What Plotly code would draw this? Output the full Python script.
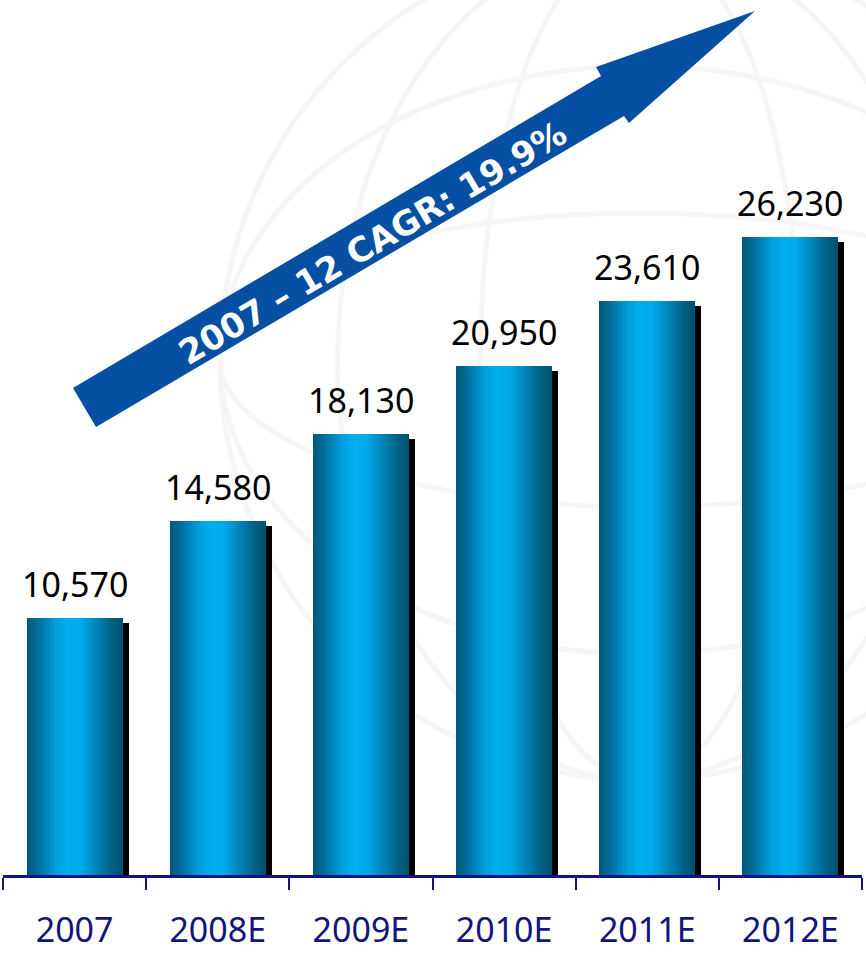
import plotly.graph_objects as go

categories = ["2007", "2008E", "2009E", "2010E", "2011E", "2012E"]
values = [10570, 14580, 18130, 20950, 23610, 26230]
value_labels = ["10,570", "14,580", "18,130", "20,950", "23,610", "26,230"]
cagr_text = "2007 – 12 CAGR: 19.9%"

W, H = 866, 953
ML, MR, MT, MB = 3, 4, 0, 78
YMAX = 36000
plot_w = W - ML - MR
plot_h = H - MT - MB
px_per_cat = plot_w / len(categories)
px_per_unit = plot_h / YMAX

NAVY = "#14147f"
ARROW = "#0550a2"
FONT = "Noto Sans"

bar_w = 96 / px_per_cat          # bar width in category units
shadow_dx = 6 / px_per_cat       # shadow offset (right)
shadow_dy = 5 / px_per_unit      # shadow offset (down)

# horizontal gradient stops (t, r, g, b)
stops = [(0.0, 0, 88, 122), (0.12, 0, 112, 158), (0.3, 0, 158, 218),
         (0.42, 0, 174, 238), (0.55, 0, 172, 236), (0.7, 0, 138, 192),
         (0.88, 0, 98, 136), (1.0, 0, 80, 110)]


def grad(t):
    for (t0, r0, g0, b0), (t1, r1, g1, b1) in zip(stops[:-1], stops[1:]):
        if t0 <= t <= t1:
            f = (t - t0) / (t1 - t0)
            return "rgb(%d,%d,%d)" % (r0 + (r1 - r0) * f, g0 + (g1 - g0) * f, b0 + (b1 - b0) * f)
    return "rgb(0,80,110)"


def P(px, py):
    """pixel position -> paper coordinates (decorations only)"""
    return (px - ML) / plot_w, (H - MB - py) / plot_h


fig = go.Figure()

# very faint globe watermark (decoration)
gx, gy, gr = 640, 360, 420
GLOBE = "#f6f6f6"
for rx_frac in [1.0, 0.72, 0.38]:
    x0, y0 = P(gx - gr * rx_frac, gy - gr)
    x1, y1 = P(gx + gr * rx_frac, gy + gr)
    fig.add_shape(type="circle", xref="paper", yref="paper", x0=x0, y0=y0, x1=x1, y1=y1,
                  line=dict(color=GLOBE, width=5), layer="below")
for ry_frac in [0.35, 0.7]:
    x0, y0 = P(gx - gr, gy - gr * ry_frac)
    x1, y1 = P(gx + gr, gy + gr * ry_frac)
    fig.add_shape(type="circle", xref="paper", yref="paper", x0=x0, y0=y0, x1=x1, y1=y1,
                  line=dict(color=GLOBE, width=5), layer="below")

# drop shadows
fig.add_trace(go.Bar(
    x=categories, y=[v - shadow_dy for v in values],
    width=bar_w, offset=-bar_w / 2 + shadow_dx,
    marker=dict(color="black", line=dict(width=0)),
    hoverinfo="skip", showlegend=False))

# gradient bars, drawn as thin vertical strips
N = 48
sw = bar_w / N
for i in range(N):
    t = (i + 0.5) / N
    fig.add_trace(go.Bar(
        x=categories, y=values,
        width=sw * 1.6 if i < N - 1 else sw, offset=-bar_w / 2 + i * sw,
        marker=dict(color=grad(t), line=dict(width=0)),
        hoverinfo="skip", showlegend=False))

# value labels
for i, (v, lab) in enumerate(zip(values, value_labels)):
    fig.add_annotation(x=i, y=v, text=lab, showarrow=False, yanchor="bottom",
                       yshift=9, font=dict(family=FONT, size=34, color="black"))

# arrow (decoration) defined in pixel space, converted to paper coords
arrow_px = [(73, 388), (601, 76), (596, 67), (755, 11), (629, 123), (624, 116), (96, 427)]
pts = [P(*p) for p in arrow_px]
path = "M " + " L ".join("%.5f,%.5f" % p for p in pts) + " Z"
fig.add_shape(type="path", path=path, xref="paper", yref="paper",
              fillcolor=ARROW, line=dict(width=0), layer="above")

cx, cy = P(372, 243)
fig.add_annotation(x=cx, y=cy, xref="paper", yref="paper", text="<b>%s</b>" % cagr_text,
                   showarrow=False, textangle=-30.6, xanchor="center", yanchor="middle",
                   font=dict(family="DejaVu Sans", size=34, color="white"))

fig.update_layout(
    width=W, height=H,
    margin=dict(l=ML, r=MR, t=MT, b=MB),
    paper_bgcolor="white", plot_bgcolor="rgba(0,0,0,0)",
    barmode="overlay", bargap=0,
    showlegend=False,
    xaxis=dict(type="category", categoryarray=categories, range=[-0.5, 5.5],
               tickson="boundaries", ticks="outside", ticklen=12, tickwidth=2,
               tickcolor=NAVY, showline=True, linecolor=NAVY, linewidth=3,
               showgrid=False, zeroline=False, fixedrange=True, automargin=False,
               ticklabelstandoff=23,
               tickfont=dict(family=FONT, size=34, color=NAVY)),
    yaxis=dict(range=[0, YMAX], visible=False, fixedrange=True, automargin=False),
)

fig.write_html("out.html", config={"displayModeBar": False},
               post_script="document.body.style.margin='0';")
